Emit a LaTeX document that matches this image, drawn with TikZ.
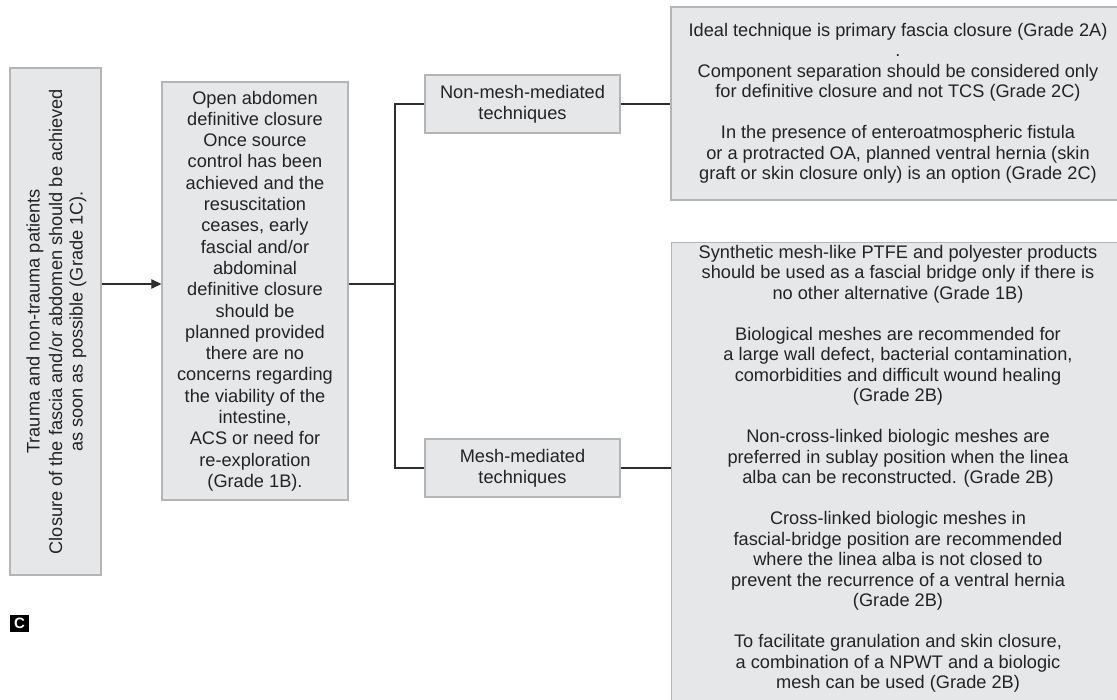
\documentclass[tikz,border=0pt]{standalone}
\usepackage{fontspec}
\setmainfont{Liberation Sans}
\usetikzlibrary{arrows.meta}
\definecolor{boxfill}{HTML}{E6E7E8}
\definecolor{boxline}{HTML}{B4B5B7}
\definecolor{ink}{HTML}{232323}
\definecolor{wirecol}{HTML}{2E2E2E}
\begin{document}
\begin{tikzpicture}[x=1pt,y=-1pt,
  panel/.style={draw=boxline, line width=1.3pt, fill=boxfill, text=ink,
    align=center, inner sep=0pt, font=\fontsize{18.2}{20.5}\selectfont},
  words/.style={text=ink, align=center, inner sep=0pt,
    font=\fontsize{18.2}{20.5}\selectfont},
  wire/.style={draw=wirecol, line width=1.15pt},
]
\clip (0,0) rectangle (1117,700);
\fill[white] (0,0) rectangle (1117,700);

% entry box with vertical text
\node[panel, minimum width=91pt, minimum height=507pt] (entry) at (55.5,321.5) {};
\node[words, rotate=90] (entrytext) at (56.5,321.5)
  {Trauma and non-trauma patients\\[2pt]Closure of the fascia and/or abdomen should be achieved\\as soon as possible (Grade 1C).};

% open abdomen box
\node[panel, minimum width=186pt, minimum height=418pt,
  font=\fontsize{18.2}{21.3}\selectfont] (oa) at (255,291)
  {Open abdomen\\definitive closure\\Once source\\control has been\\achieved and the\\resuscitation\\ceases, early\\fascial and/or\\abdominal\\definitive closure\\should be\\planned provided\\there are no\\concerns regarding\\the viability of the\\intestine,\\ACS or need for\\re-exploration\\(Grade 1B).};

% technique boxes
\node[panel, minimum width=195pt, minimum height=58pt,
  font=\fontsize{18.2}{21}\selectfont] (plain) at (522.5,104)
  {Non-mesh-mediated\\techniques};
\node[panel, minimum width=195pt, minimum height=58pt,
  font=\fontsize{18.2}{21}\selectfont] (meshy) at (522.5,468)
  {Mesh-mediated\\techniques};

% recommendation boxes
\node[panel, minimum width=454pt, minimum height=193pt] (topbox) at (898,103.5)
  {Ideal technique is primary fascia closure (Grade 2A)\\.\\Component separation should be considered only\\for definitive closure and not TCS (Grade 2C)\\[20.5pt]In the presence of enteroatmospheric fistula\\or a protracted OA, planned ventral hernia (skin\\graft or skin closure only) is an option (Grade 2C)};

\node[panel, anchor=north west, minimum width=454pt, minimum height=480pt] (meshbox) at (671,242) {};
\node[words] (meshtext) at (898,469)
  {Synthetic mesh-like PTFE and polyester products\\should be used as a fascial bridge only if there is\\no other alternative (Grade 1B)\\[20.5pt]Biological meshes are recommended for\\a large wall defect, bacterial contamination,\\comorbidities and difficult wound healing\\(Grade 2B)\\[20.5pt]Non-cross-linked biologic meshes are\\preferred in sublay position when the linea\\alba can be reconstructed. (Grade 2B)\\[20.5pt]Cross-linked biologic meshes in\\fascial-bridge position are recommended\\where the linea alba is not closed to\\prevent the recurrence of a ventral hernia\\(Grade 2B)\\[20.5pt]To facilitate granulation and skin closure,\\a combination of a NPWT and a biologic\\mesh can be used (Grade 2B)};

% panel tag
\node[fill=black, text=white, font=\bfseries\fontsize{15}{15}\selectfont,
  minimum width=19pt, minimum height=17pt, inner sep=0pt] (tag) at (19.5,623) {C};

% connectors
\coordinate (fork) at (395,284);
\draw[wire, -{Triangle[length=10pt,width=9.5pt]}] (entry.east |- fork) -- (oa.west |- fork);
\draw[wire] (oa.east |- fork) -- (fork);
\draw[wire] (plain.west) -- (plain.west -| fork) -- (meshy.west -| fork) -- (meshy.west);
\draw[wire] (plain.east) -- (plain.east -| topbox.west);
\draw[wire] (meshy.east) -- (meshy.east -| meshbox.west);
\end{tikzpicture}
\end{document}
